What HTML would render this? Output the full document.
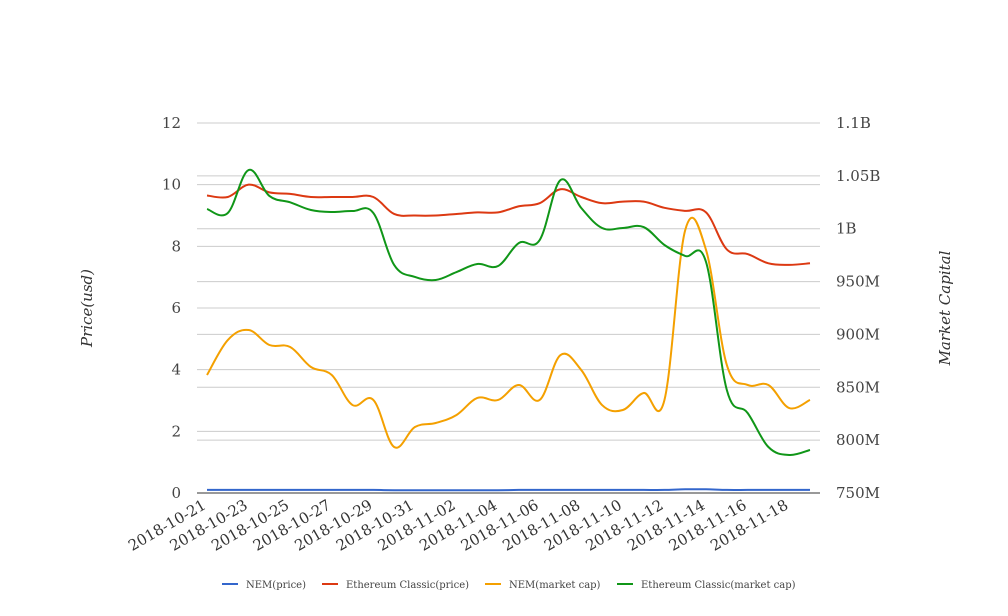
<!DOCTYPE html>
<html><head><meta charset="utf-8"><style>
body{margin:0;background:#fff}
svg{display:block;font-family:"DejaVu Serif","Liberation Serif",serif}
</style></head><body>
<svg id="c" width="1008" height="616"></svg>
<script>
const categories=["2018-10-21","2018-10-22","2018-10-23","2018-10-24","2018-10-25","2018-10-26","2018-10-27","2018-10-28","2018-10-29","2018-10-30","2018-10-31","2018-11-01","2018-11-02","2018-11-03","2018-11-04","2018-11-05","2018-11-06","2018-11-07","2018-11-08","2018-11-09","2018-11-10","2018-11-11","2018-11-12","2018-11-13","2018-11-14","2018-11-15","2018-11-16","2018-11-17","2018-11-18","2018-11-19"];
const nemPrice=[0.1,0.1,0.1,0.1,0.1,0.1,0.1,0.1,0.1,0.09,0.09,0.09,0.09,0.09,0.09,0.1,0.1,0.1,0.1,0.1,0.1,0.1,0.1,0.12,0.12,0.1,0.1,0.1,0.1,0.1];
const etcPrice=[9.65,9.6,10.0,9.75,9.7,9.6,9.6,9.6,9.6,9.05,9.0,9.0,9.05,9.1,9.1,9.3,9.4,9.85,9.6,9.4,9.45,9.45,9.25,9.15,9.1,7.9,7.75,7.45,7.4,7.45];
const nemCap=[861.6,894.7,904.2,890,888.1,869.2,861.6,833.2,838,793.5,812.4,816.2,823.8,839.9,838,852.2,838,880.5,866.3,833.2,828.5,844.6,838,998.8,979.9,871.1,852.2,852.2,830.4,838];
const etcCap=[1018.6,1014.9,1055.5,1031,1025,1017.7,1015.8,1016.7,1014.9,965.7,954.4,951.5,959,966.6,964.7,986.5,989.3,1046,1019.6,1000.7,1000.7,1001.6,984.6,974.2,968.5,847.4,825.7,793.5,786,790.7];
const leftTicks=[0,2,4,6,8,10,12];
const rightTicks=[750,800,850,900,950,1000,1050,1100];
const rightLabels=["750M","800M","850M","900M","950M","1B","1.05B","1.1B"];
const xLabels=categories.filter((d,i)=>i%2===0);

const NS="http://www.w3.org/2000/svg",svg=document.getElementById('c');
const X0=197,X1=820,Y0=493,Y1=123;
const xs=i=>207+i*(810-207)/(categories.length-1);
const yL=v=>Y0-(v-0)/(12-0)*(Y0-Y1);
const yR=v=>Y0-(v-750)/(1100-750)*(Y0-Y1);
function mk(t,a,p){const e=document.createElementNS(NS,t);for(const k in a)e.setAttribute(k,a[k]);(p||svg).appendChild(e);return e;}
// gridlines
leftTicks.forEach(v=>{if(v===0)return;
const g=mk('line',{x1:X0,x2:X1,y1:yL(v),y2:yL(v),stroke:'#ccc','stroke-width':1});

});
rightTicks.forEach(v=>{if(v===750)return;
const g=mk('line',{x1:X0,x2:X1,y1:yR(v),y2:yR(v),stroke:'#ccc','stroke-width':1});

});
const ax=mk('line',{x1:X0,x2:X1,y1:Y0,y2:Y0,stroke:'#333','stroke-width':1});


leftTicks.forEach(v=>{const t=mk('text',{x:181,y:yL(v)+5,'text-anchor':'end','font-size':15,fill:'#444'});t.textContent=v;

});
rightTicks.forEach((v,i)=>{const t=mk('text',{x:836,y:yR(v)+5,'font-size':15,fill:'#444'});t.textContent=rightLabels[i];

});
xLabels.forEach((d,k)=>{const x=xs(k*2);const t=mk('text',{x:x,y:508,'text-anchor':'end','font-size':15,fill:'#333',transform:`rotate(-30 ${x} 508)`});t.textContent=d;

});
let t=mk('text',{x:92,y:308,'text-anchor':'middle','font-size':15,'font-style':'italic',fill:'#333',transform:'rotate(-90 92 308)'});t.textContent='Price(usd)';


t=mk('text',{x:950,y:308,'text-anchor':'middle','font-size':15,'font-style':'italic',fill:'#333',transform:'rotate(-90 950 308)'});t.textContent='Market Capital';


function path(vals,yf){const p=vals.map((v,i)=>[xs(i),yf(v)]);let d=`M${p[0][0]},${p[0][1]}`;
for(let i=0;i<p.length-1;i++){const a=p[i-1]||p[i],b=p[i],c=p[i+1],e=p[i+2]||c;const s=0.18;
d+=` C${b[0]+(c[0]-a[0])*s},${b[1]+(c[1]-a[1])*s} ${c[0]-(e[0]-b[0])*s},${c[1]-(e[1]-b[1])*s} ${c[0]},${c[1]}`;}return d;}
const series=[[nemPrice,yL,'#3366cc','nem-price-line'],[etcPrice,yL,'#dc3912','etc-price-line'],[nemCap,yR,'#f4a000','nem-market-cap-line'],[etcCap,yR,'#109618','etc-market-cap-line']];
series.forEach(s=>{const e=mk('path',{d:path(s[0],s[1]),fill:'none',stroke:s[2],'stroke-width':2});

});
const legend=[[222,'NEM(price)','#3366cc'],[322,'Ethereum Classic(price)','#dc3912'],[485,'NEM(market cap)','#f4a000'],[617,'Ethereum Classic(market cap)','#109618']];
legend.forEach(l=>{const g=mk('g',{});


mk('line',{x1:l[0],x2:l[0]+16,y1:584,y2:584,stroke:l[2],'stroke-width':2},g);
const tx=mk('text',{x:l[0]+24,y:588,'font-size':10,fill:'#444'},g);tx.textContent=l[1];});
</script>
</body></html>
